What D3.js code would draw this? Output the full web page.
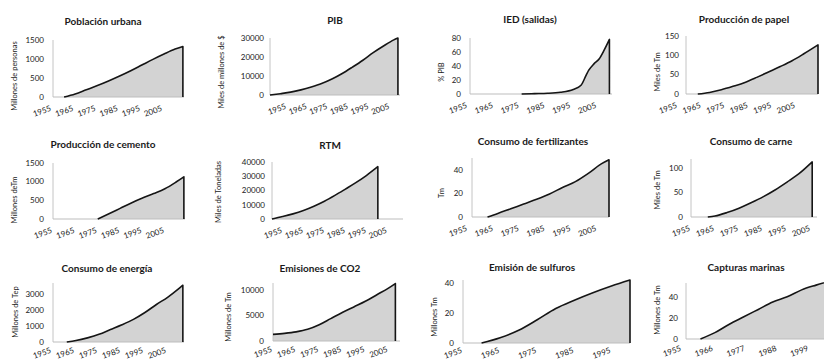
<!DOCTYPE html>
<html>
<head>
<meta charset="utf-8">
<script src="https://cdn.jsdelivr.net/npm/d3@7"></script>
<style>
  body { margin: 0; background: #fff; }
  svg { display: block; }
  text { font-family: Lato, "Open Sans", sans-serif; fill: #1a1a1a; }
</style>
</head>
<body>
<svg id="chart" width="824" height="362"></svg>
<script>
// values
const titles = ['Población urbana', 'PIB', 'IED (salidas)', 'Producción de papel',
  'Producción de cemento', 'RTM', 'Consumo de fertilizantes', 'Consumo de carne',
  'Consumo de energía', 'Emisiones de CO2', 'Emisión de sulfuros', 'Capturas marinas'];
const yLabels = ['Millones de personas', 'Miles de millones de $', '% PIB', 'Miles de Tm',
  'Millones deTm', 'Miles de Toneladas', 'Tm', 'Miles de Tm',
  'Millones de Tep', 'Millones de Tm', 'Millones Tm', 'Millones de Tm'];

const yTicks = [
  [0, 500, 1000, 1500], [0, 10000, 20000, 30000], [0, 20, 40, 60, 80], [0, 50, 100, 150],
  [0, 500, 1000, 1500], [0, 10000, 20000, 30000, 40000], [0, 20, 40], [0, 50, 100],
  [0, 1000, 2000, 3000], [0, 5000, 10000], [0, 20, 40], [0, 20, 40]
];
const yMax = [1500, 30000, 80, 150, 1500, 40000, 50, 118, 3700, 11400, 42, 53];

const decadeTicks = [1955, 1965, 1975, 1985, 1995, 2005];
const decadeTicksShort = [1955, 1965, 1975, 1985, 1995];
const capturasTicks = [1955, 1966, 1977, 1988, 1999];

const urbanYears = [1960, 1965, 1970, 1975, 1980, 1985, 1990, 1995, 2000, 2005, 2010, 2013.5];
const urbanValues = [0, 80, 190, 300, 420, 550, 690, 840, 990, 1130, 1260, 1330];

const pibYears = [1955, 1960, 1965, 1970, 1975, 1980, 1985, 1990, 1995, 2000, 2005, 2010, 2015, 2017];
const pibValues = [0, 700, 1500, 2700, 4200, 6000, 8400, 11300, 14700, 18300, 22300, 25800, 29000, 30000];

const iedYears = [1975, 1980, 1985, 1990, 1995, 1998, 2000, 2001, 2003, 2005, 2007, 2009];
const iedValues = [0, 0.5, 1, 2.5, 6.5, 12.5, 27, 34, 43, 50, 63, 78];

const papelYears = [1960, 1965, 1970, 1975, 1980, 1985, 1990, 1995, 2000, 2005, 2011];
const papelValues = [0, 4, 11, 20, 30, 43, 57, 71, 86, 104, 127];

const cementoYears = [1975, 1980, 1985, 1990, 1995, 2000, 2005, 2010, 2013.5];
const cementoValues = [0, 140, 285, 430, 560, 680, 810, 990, 1130];

const rtmYears = [1955, 1960, 1965, 1970, 1975, 1980, 1985, 1990, 1995, 2000, 2005.5];
const rtmValues = [0, 1700, 3600, 6000, 9000, 12500, 16600, 21000, 25500, 30500, 36700];

const fertYears = [1961, 1965, 1970, 1975, 1980, 1985, 1990, 1995, 2000, 2005, 2008];
const fertValues = [0, 3, 7, 11, 15, 19.5, 25, 30, 37, 45, 48.5];

const carneYears = [1962, 1965, 1970, 1975, 1980, 1985, 1990, 1995, 2000, 2005.5];
const carneValues = [0, 2, 9, 18, 29, 41, 55, 71, 88, 112];

const energiaYears = [1961, 1965, 1970, 1975, 1980, 1985, 1990, 1995, 2000, 2005, 2010, 2011.5];
const energiaValues = [0, 90, 260, 480, 780, 1080, 1420, 1850, 2350, 2820, 3380, 3560];

const co2Years = [1955, 1960, 1965, 1970, 1975, 1980, 1985, 1990, 1995, 2000, 2005, 2008];
const co2Values = [1300, 1500, 1800, 2300, 3200, 4400, 5600, 6700, 7800, 9100, 10400, 11300];

const sulfYears = [1960, 1965, 1970, 1975, 1980, 1985, 1990, 1995, 2000];
const sulfValues = [0, 3.5, 8.5, 15.5, 23, 28.5, 33.5, 38, 42];

const capturasYears = [1960, 1965, 1970, 1975, 1980, 1985, 1990, 1995, 2000, 2005];
const capturasValues = [0, 6, 14, 21, 28, 35, 40, 46.5, 51, 55];

const seriesYears = [urbanYears, pibYears, iedYears, papelYears, cementoYears, rtmYears,
  fertYears, carneYears, energiaYears, co2Years, sulfYears, capturasYears];
const seriesValues = [urbanValues, pibValues, iedValues, papelValues, cementoValues, rtmValues,
  fertValues, carneValues, energiaValues, co2Values, sulfValues, capturasValues];
const xTicks = [decadeTicks, decadeTicks, decadeTicks, decadeTicks, decadeTicks, decadeTicks,
  decadeTicks, decadeTicks, decadeTicks, decadeTicks, decadeTicksShort, capturasTicks];

// panel geometry (pixels) and x domain end
const layout = [
  {left: 53, right: 184, xEnd: 2014, base: 97, top: 40, shift: -11, lab: 14, tx: 103, ty: 21, lx: 14, ly: 76, tickGap: 9},
  {left: 270, right: 400, xEnd: 2018, base: 95, top: 38, shift: 7, lab: 14, tx: 335, ty: 20, lx: 221, ly: 72, tickGap: 6},
  {left: 470, right: 612, xEnd: 2010, base: 94, top: 38, shift: -12, lab: 14, tx: 530, ty: 19, lx: 441, ly: 72, tickGap: 9},
  {left: 686, right: 818, xEnd: 2011, base: 94, top: 36, shift: -18, lab: 14, tx: 744, ty: 19, lx: 657, ly: 72, tickGap: 7},
  {left: 53, right: 185, xEnd: 2014, base: 219, top: 163, shift: -10, lab: 14, tx: 103, ty: 144, lx: 14, ly: 200, tickGap: 9},
  {left: 272, right: 403, xEnd: 2017.5, base: 219, top: 162, shift: 1, lab: 14, tx: 330, ty: 145, lx: 218, ly: 192, tickGap: 7},
  {left: 472, right: 609, xEnd: 2008, base: 217, top: 158, shift: -14, lab: 14, tx: 533, ty: 141, lx: 441, ly: 193, tickGap: 9},
  {left: 691, right: 817, xEnd: 2007.5, base: 217, top: 159, shift: -10, lab: 14, tx: 751, ty: 141, lx: 657, ly: 190, tickGap: 8},
  {left: 53, right: 184, xEnd: 2012, base: 342, top: 283, shift: -11, lab: 11, tx: 107, ty: 268, lx: 15, ly: 312, tickGap: 9},
  {left: 273, right: 400, xEnd: 2010, base: 341, top: 283, shift: -10, lab: 11, tx: 320, ty: 268, lx: 228, ly: 317, tickGap: 9},
  {left: 463, right: 630, xEnd: 2000, base: 343, top: 280, shift: -10, lab: 10, tx: 532, ty: 267, lx: 434, ly: 317, tickGap: 9},
  {left: 686, right: 845, xEnd: 2010, base: 339, top: 283, shift: -14, lab: 12, tx: 746, ty: 267, lx: 657, ly: 310, tickGap: 8}
];

const svg = d3.select('#chart');

layout.forEach((p, i) => {
  const x = d3.scaleLinear().domain([1955, p.xEnd]).range([p.left, p.right]);
  const y = d3.scaleLinear().domain([0, yMax[i]]).range([p.base, p.top]);
  const data = seriesYears[i].map((yr, k) => ({year: yr, v: seriesValues[i][k]}));
  const g = svg.append('g');

  // filled area
  g.append('path')
    .datum(data)
    .attr('fill', '#d3d3d3')
    .attr('d', d3.area().curve(d3.curveMonotoneX).x(d => x(d.year)).y0(p.base).y1(d => y(d.v)));

  // axes (light gray lines)
  g.append('line')
    .attr('x1', p.left).attr('x2', p.left)
    .attr('y1', p.base).attr('y2', p.top)
    .attr('stroke', '#c4c4c4').attr('stroke-width', 1);
  g.append('line')
    .attr('x1', p.left).attr('x2', p.right)
    .attr('y1', p.base).attr('y2', p.base)
    .attr('stroke', '#bdbdbd').attr('stroke-width', 1);

  // outline with drop to the axis at the end
  const last = data[data.length - 1];
  const lineGen = d3.line().curve(d3.curveMonotoneX).x(d => x(d.year)).y(d => y(d.v));
  g.append('path')
    .attr('fill', 'none')
    .attr('stroke', '#151515')
    .attr('stroke-width', 1.6)
    .attr('stroke-linejoin', 'round')
    .attr('d', lineGen(data) + 'L' + x(last.year) + ',' + p.base);

  // y tick labels
  g.selectAll('.yt')
    .data(yTicks[i])
    .enter()
    .append('text')
      .attr('x', p.left - p.tickGap)
      .attr('y', d => y(d))
      .attr('dy', '0.35em')
      .attr('text-anchor', 'end')
      .style('font-size', '8px')
      .text(d => d);

  // x tick labels, slanted
  g.selectAll('.xt')
    .data(xTicks[i])
    .enter()
    .append('text')
      .attr('transform', d => 'translate(' + (x(d) + p.shift) + ',' + (p.base + p.lab) + ') rotate(-20)')
      .attr('text-anchor', 'middle')
      .attr('dy', '0.35em')
      .style('font-size', '8px')
      .text(d => d);

  // title
  g.append('text')
    .attr('x', p.tx).attr('y', p.ty)
    .attr('text-anchor', 'middle')
    .attr('dy', '0.35em')
    .style('font-size', '10px')
    .style('font-weight', 'bold')
    .text(titles[i]);

  // y axis title
  g.append('text')
    .attr('transform', 'translate(' + p.lx + ',' + p.ly + ') rotate(-90)')
    .attr('text-anchor', 'middle')
    .attr('dy', '0.35em')
    .style('font-size', '7.5px')
    .text(yLabels[i]);
});
</script>
</body>
</html>
